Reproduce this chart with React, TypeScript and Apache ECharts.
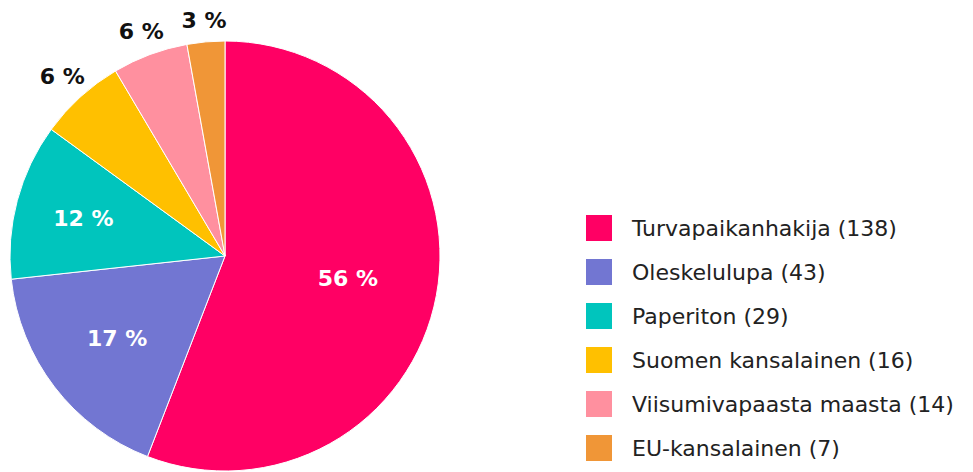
import React, { useEffect, useRef } from "react";
import * as echarts from "echarts";

const categories = [
  "Turvapaikanhakija",
  "Oleskelulupa",
  "Paperiton",
  "Suomen kansalainen",
  "Viisumivapaasta maasta",
  "EU-kansalainen",
];
const values = [138, 43, 29, 16, 14, 7];
const colors = ["#FF0064", "#7276D2", "#00C5BD", "#FFC000", "#FF909F", "#F09637"];
const insideLabelCount = 3;
// outer radius of the invisible label ring per slice (label sits at half of it)
const labelRings = [244, 266, 287, 478, 474, 466];

export default function App() {
  const ref = useRef<HTMLDivElement>(null);
  useEffect(() => {
    if (!ref.current) return;
    const chart = echarts.init(ref.current, undefined, { renderer: "svg" });
    const total = values.reduce((a, b) => a + b, 0);
    const pct = (v: number) => `${Math.round((v / total) * 100)} %`;
    const font = "'DejaVu Sans', sans-serif";
    const baseData = categories.map((c, i) => ({
      name: c,
      value: values[i],
      itemStyle: { color: colors[i] },
    }));
    const common = {
      type: "pie",
      center: [225, 256],
      startAngle: 90,
      clockwise: true,
      silent: true,
      labelLine: { show: false },
      emphasis: { disabled: true },
    };
    const labelSeries = categories.map((_, k) => ({
      ...common,
      name: "label" + k,
      radius: [0, labelRings[k]],
      data: categories.map((c, i) => ({
        name: c,
        value: values[i],
        itemStyle: { color: "rgba(0,0,0,0)", borderWidth: 0 },
        label: {
          show: i === k,
          position: "inside",
          formatter: () => pct(values[i]),
          color: i < insideLabelCount ? "#ffffff" : "#111111",
          fontSize: 22,
          fontWeight: "bold",
          fontFamily: font,
        },
      })),
    }));
    chart.setOption({
      animation: false,
      backgroundColor: "#ffffff",
      legend: {
        orient: "vertical",
        left: 579,
        top: 208,
        height: 262,
        itemWidth: 28,
        itemHeight: 28,
        itemGap: 14,
        icon: "rect",
        data: categories,
        formatter: (name: string) => {
          const i = categories.indexOf(name);
          return `${name} (${values[i]})`;
        },
        textStyle: {
          fontSize: 22,
          color: "#222222",
          fontFamily: font,
          padding: [0, 0, 0, 14],
        },
        selectedMode: false,
      },
      series: [
        {
          ...common,
          name: "main",
          radius: [0, 215],
          label: { show: false },
          itemStyle: { borderColor: "#ffffff", borderWidth: 1 },
          data: baseData,
        },
        ...labelSeries,
      ],
    });
    return () => chart.dispose();
  }, []);
  return (
    <div
      ref={ref}
      style={{ position: "absolute", left: 0, top: 0, width: 973, height: 472 }}
    />
  );
}
